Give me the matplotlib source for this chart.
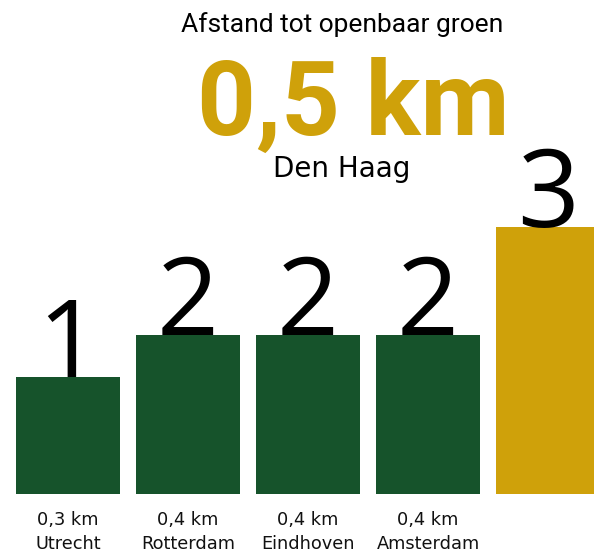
import matplotlib
matplotlib.use("Agg")
import matplotlib.pyplot as plt

# data
cities = ["Utrecht", "Rotterdam", "Eindhoven", "Amsterdam", "Den Haag"]
distances = ["0,3 km", "0,4 km", "0,4 km", "0,4 km", "0,5 km"]
ranks = [1, 2, 2, 2, 3]
podium_height = [1.17, 1.59, 1.59, 1.59, 2.67]
highlight = "Den Haag"

GREEN = "#16532b"
GOLD = "#cfa10a"

plt.rcParams["font.family"] = ["Roboto", "DejaVu Sans"]

fig = plt.figure(figsize=(5.94, 5.52), dpi=100)
ax = fig.add_axes([0, 1 - 494 / 552, 1, 494 / 552])

x = list(range(len(cities)))
colors = [GOLD if c == highlight else GREEN for c in cities]
ax.bar(x, podium_height, width=0.867, color=colors)

# rank numbers sitting on top of each podium block
for xi, h, r in zip(x, podium_height, ranks):
    ax.text(xi, h, str(r), ha="center", va="baseline", fontsize=78,
            family="Open Sans", color="black", clip_on=False)

ax.set_xlim(-0.567, 4.383)
ax.set_ylim(0, 4.94)
labels = [f"{d}\n{c}" if c != highlight else "" for d, c in zip(distances, cities)]
ax.set_xticks(x)
ax.set_xticklabels(labels, fontsize=12.8, linespacing=1.4, color="#111111",
                   family="DejaVu Sans")
ax.tick_params(axis="x", length=0, pad=12.5)
ax.set_yticks([])
for s in ax.spines.values():
    s.set_visible(False)

# header for the highlighted city
i = cities.index(highlight)
fig.text(342 / 594, 1 - 32 / 552, "Afstand tot openbaar groen", ha="center",
         va="baseline", fontsize=19, color="black")
fig.text(353 / 594, 1 - 135 / 552, distances[i], ha="center", va="baseline",
         fontsize=74, fontweight="semibold", color=GOLD)
fig.text(342 / 594, 1 - 177 / 552, cities[i], ha="center", va="baseline",
         fontsize=20, family="DejaVu Sans", color="black")

fig.savefig("out.png", dpi=100)
